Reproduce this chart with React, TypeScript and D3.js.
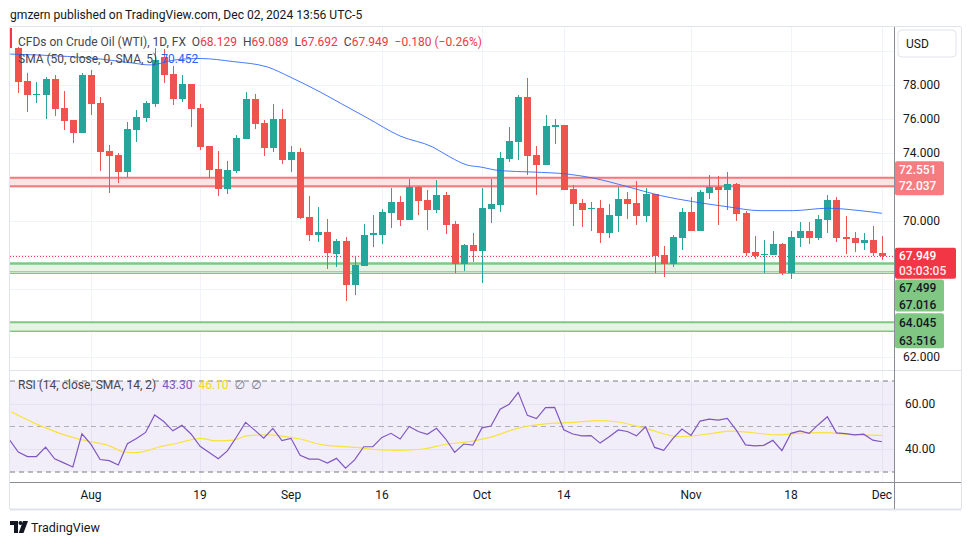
import React from "react";
import * as d3 from "d3";

// ---------- DATA ----------
const OPEN = [80.16,78.24,77.45,77.41,78.36,76.65,75.94,75.2,78.61,76.94,74.12,73.88,72.9,75.38,76.08,76.9,79.63,78.65,77.2,78.06,76.65,74.41,73.06,71.9,72.96,74.85,77.18,75.77,74.31,76.0,73.61,74.06,70.24,69.2,69.38,68.08,68.82,66.24,67.37,69.18,69.18,70.49,71.12,70.08,72.02,71.24,70.67,71.53,69.82,67.45,68.61,68.25,70.73,70.96,73.67,74.67,77.29,73.88,73.31,75.55,75.65,71.88,71.06,70.72,70.76,69.29,70.29,71.29,71.06,70.29,71.59,68.0,67.47,69.0,70.53,69.41,71.65,72.0,71.82,72.18,70.47,68.18,68.0,68.0,68.65,66.94,69.0,69.41,69.0,70.06,71.24,69.06,69.0,68.71,68.88,68.129];
const HIGH = [80.25,78.73,78.16,78.49,78.59,77.67,75.96,78.69,78.88,77.27,74.47,74.02,75.83,76.53,77.06,80.18,80.1,79.12,78.61,78.08,76.88,74.43,74.12,73.53,75.08,77.59,77.47,75.94,76.88,76.59,74.41,74.29,71.49,70.84,70.12,68.94,69.04,67.94,69.82,70.37,70.71,71.94,71.47,72.49,72.04,71.82,72.41,71.69,70.0,68.67,69.29,71.94,72.47,74.06,75.53,77.41,78.41,74.41,76.24,76.0,75.67,72.12,71.29,71.12,71.24,71.0,72.0,71.71,72.35,71.94,71.61,68.53,69.18,70.76,71.41,71.82,72.71,72.65,72.88,72.24,70.59,69.12,68.88,69.41,68.71,69.41,69.94,69.94,70.35,71.53,71.41,70.29,69.35,69.29,69.71,69.089];
const LOW = [77.55,76.43,76.92,76.0,76.18,75.36,74.61,75.18,76.26,72.96,71.67,72.22,72.61,74.63,75.84,76.73,78.14,76.84,76.98,75.55,74.18,72.55,71.49,71.61,72.85,74.83,75.41,73.84,74.08,73.37,72.9,70.14,68.85,68.78,67.17,67.31,65.31,65.65,67.35,68.49,68.67,69.59,69.73,70.06,70.37,69.49,70.49,69.26,66.96,67.08,67.61,66.37,69.9,70.55,73.49,73.59,72.73,71.55,73.29,74.55,71.82,69.71,69.65,69.4,68.71,69.0,69.35,70.12,69.76,69.96,66.94,66.73,67.29,68.29,69.39,69.39,71.29,69.76,70.65,70.0,67.94,67.76,66.94,67.98,66.82,66.59,68.47,68.65,68.88,69.29,68.76,68.06,68.18,68.29,67.94,67.692];
const CLOSE = [78.2,77.41,77.5,78.36,76.61,75.9,75.2,78.61,76.9,74.08,73.84,72.9,75.39,76.12,76.94,79.47,78.61,77.2,78.06,76.61,74.37,73.02,71.9,73.0,74.88,77.18,75.73,74.31,76.0,73.61,74.06,70.2,69.2,69.38,68.1,68.82,66.24,67.41,69.18,69.27,70.53,71.12,70.08,72.02,71.2,70.67,71.53,69.78,67.45,68.61,68.25,70.76,71.0,73.71,74.71,77.29,73.84,73.31,75.59,75.63,71.84,71.02,70.66,70.78,69.29,70.35,71.29,71.0,70.29,71.59,67.94,67.47,69.06,70.53,69.41,71.71,72.0,71.82,72.18,70.41,68.12,67.94,68.06,68.65,66.94,69.06,69.41,69.0,70.12,71.24,69.0,68.94,68.71,68.88,68.12,67.949];

// RSI values for bar -1 .. 95
const RSI = [44.3,38.8,36.8,36.8,40.9,35.8,34.0,32.2,46.8,42.1,35.5,35.0,33.1,42.4,44.7,47.4,55.1,52.2,48.1,50.5,46.7,41.3,38.6,35.8,39.3,45.4,51.8,48.4,44.9,49.2,43.8,44.8,37.3,35.7,35.7,33.9,36.0,31.7,35.3,41.1,41.1,45.2,47.0,44.5,50.0,47.8,46.6,49.2,44.6,38.6,42.3,41.8,49.4,50.2,57.6,59.8,65.0,54.9,53.5,58.3,58.4,48.6,46.7,45.9,46.0,42.7,45.5,48.5,47.8,45.9,49.9,40.8,39.5,44.7,48.9,46.1,52.4,53.2,52.8,53.6,48.3,41.9,41.5,41.7,43.9,39.4,47.0,48.1,47.0,50.8,54.3,47.2,46.9,46.3,46.6,44.0,43.3];

// RSI-based MA, sampled along the line
const RSI_MA_IDX = [-0.8,2.4,5.9,7.9,10.1,11.55,13.0,14.1,15.6,17.1,18.5,20,21.8,23.7,25.1,27.3,29.2,31,33.5,37.2,39.8,42,44.5,47.1,50,51.9,54.9,58.5,61,62.9,63.7,65.8,68.7,72.8,76.4,78.3,83.8,85.7,88.5,92.3,95];
const RSI_MA_VAL = [56.5,50.4,45.3,43.4,41.4,38.9,38.5,39.3,41.1,42.3,43.7,44.8,43.7,44.0,45.9,46.3,45.7,44.5,41.9,40.8,39.7,39.5,40.1,42.2,43.6,45.2,49.2,51.4,51.8,52.4,52.6,52.1,49.5,45.5,47.0,48.0,46.3,47.0,47.3,46.3,46.1];

// SMA 50, sampled along the line
const SMA_IDX = [-0.9,5.4,9,12.6,14.5,17.2,20,23.6,27.4,29.9,33.2,35.4,38.4,42,45.6,47.5,49.4,50.8,53,56.6,60.4,63.2,67,70.6,74.2,78,81.6,85.2,89,92.6,95];
const SMA_VAL = [79.82,79.68,79.53,79.29,79.18,79.47,79.56,79.38,79.06,78.47,77.59,76.94,76.06,75.0,74.35,73.76,73.29,73.18,72.96,72.88,72.76,72.53,72.02,71.5,71.14,70.84,70.61,70.61,70.75,70.61,70.452];

const TIME_LABELS = ["Aug", "19", "Sep", "16", "Oct", "14", "Nov", "18", "Dec"];
const TIME_LABEL_IDX = [8, 20, 30, 40, 51, 60, 74, 85, 95];
const PRICE_GRID = [80, 78, 76, 74, 72, 70, 68, 66, 64, 62];
const PRICE_TICKS = [78, 76, 74, 70, 62];
const RSI_TICKS = [60, 40];

const RED_BAND = [72.551, 72.037];
const GREEN_BAND_1 = [67.499, 67.016];
const GREEN_BAND_2 = [64.045, 63.516];
const LAST_PRICE = 67.949;
const COUNTDOWN = "03:03:05";

// ---------- COMPONENT ----------
const FONT = "Roboto, 'Open Sans', 'DejaVu Sans', sans-serif";

export default function App() {
  const W = 970, H = 545;
  const L = 10, AX = 894, R = 961;
  const TOP = 27, MAIN_B = 370, RSI_T = 371, RSI_B = 482, TIME_B = 509;

  const x = d3.scaleLinear().domain([0, 95]).range([18.3, 881.9]);
  const y = d3.scaleLinear().domain([62, 78]).range([357, 85]);
  const yr = d3.scaleLinear().domain([30, 70]).range([472, 381]);

  const up = "#26A69A", down = "#EF5350";

  const smaLine = d3.line<number>()
    .x((_, i) => x(SMA_IDX[i]))
    .y((d) => y(d))
    .curve(d3.curveMonotoneX)(SMA_VAL) || "";
  const rsiLine = d3.line<number>()
    .x((_, i) => x(i - 1))
    .y((d) => yr(d))(RSI) || "";
  const rsiMaLine = d3.line<number>()
    .x((_, i) => x(RSI_MA_IDX[i]))
    .y((d) => yr(d))
    .curve(d3.curveMonotoneX)(RSI_MA_VAL) || "";

  const band = (vals: number[], stroke: string, fill: string, key: string, topW: number, botW: number) => (
    <g key={key}>
      <rect x={L} y={y(vals[0])} width={AX - L} height={y(vals[1]) - y(vals[0])} fill={fill} />
      <line x1={L} x2={AX} y1={y(vals[0])} y2={y(vals[0])} stroke={stroke} strokeWidth={topW} />
      <line x1={L} x2={AX} y1={y(vals[1])} y2={y(vals[1])} stroke={stroke} strokeWidth={botW} />
    </g>
  );

  const lbl = (v: number) => v.toFixed(3);

  return (
    <svg width={W} height={H} style={{ position: "absolute", left: 0, top: 0, background: "#fff" }} fontFamily={FONT}>
      <defs>
        <clipPath id="mainClip"><rect x={L} y={TOP} width={AX - L} height={MAIN_B - TOP} /></clipPath>
        <clipPath id="rsiClip"><rect x={L} y={RSI_T} width={AX - L} height={RSI_B - RSI_T} /></clipPath>
      </defs>
      <rect x={0} y={0} width={W} height={H} fill="#fff" />

      {/* header */}
      <text x={10} y={19} fontSize={12.1} fill="#131722">gmzern published on TradingView.com, Dec 02, 2024 13:56 UTC-5</text>

      {/* grid */}
      <g stroke="#F0F3FA" strokeWidth={1}>
        {PRICE_GRID.map((p) => (
          <line key={"pg" + p} x1={L} x2={AX} y1={Math.round(y(p)) + 0.5} y2={Math.round(y(p)) + 0.5} />
        ))}
        {TIME_LABEL_IDX.map((i) => (
          <line key={"vg" + i} x1={Math.round(x(i)) + 0.5} x2={Math.round(x(i)) + 0.5} y1={TOP} y2={RSI_B} />
        ))}
        {RSI_TICKS.map((v) => (
          <line key={"rg" + v} x1={L} x2={AX} y1={Math.round(yr(v)) + 0.5} y2={Math.round(yr(v)) + 0.5} />
        ))}
      </g>

      {/* main pane */}
      <g clipPath="url(#mainClip)">
        {band(RED_BAND, "#F5787D", "#FDE3E4", "rb", 2, 2)}
        {band(GREEN_BAND_1, "#81C784", "#E6F4E6", "gb1", 2.5, 1.2)}
        <line x1={L} x2={AX} y1={y(66.92)} y2={y(66.92)} stroke="#81C784" strokeWidth={1.2} />
        {band(GREEN_BAND_2, "#81C784", "#E6F4E6", "gb2", 2, 1.5)}

        <line x1={L} x2={AX} y1={Math.round(y(LAST_PRICE)) + 0.5} y2={Math.round(y(LAST_PRICE)) + 0.5}
          stroke="#F23645" strokeWidth={1} strokeDasharray="1 2" />

        <g shapeRendering="crispEdges">
          {OPEN.map((o, i) => {
            const c = CLOSE[i];
            const col = c >= o ? up : down;
            const cx = Math.round(x(i));
            const top = y(Math.max(o, c));
            const bot = y(Math.min(o, c));
            return (
              <g key={"c" + i}>
                <rect x={cx} y={y(HIGH[i])} width={1} height={y(LOW[i]) - y(HIGH[i])} fill={col} />
                <rect x={cx - 3} y={top} width={7} height={Math.max(1, bot - top)} fill={col} />
              </g>
            );
          })}
        </g>

        <path d={smaLine} fill="none" stroke="#2962FF" strokeWidth={1} opacity={0.85} />
      </g>

      {/* legend main */}
      <rect x={10} y={28} width={2} height={20} fill="#F23645" />
      <text x={18} y={46} fontSize={12} fill="#434651">
        CFDs on Crude Oil (WTI), 1D, FX
        <tspan dx={6}>O</tspan><tspan fill="#F23645">68.129</tspan>
        <tspan dx={6}>H</tspan><tspan fill="#F23645">69.089</tspan>
        <tspan dx={6}>L</tspan><tspan fill="#F23645">67.692</tspan>
        <tspan dx={6}>C</tspan><tspan fill="#F23645">67.949</tspan>
        <tspan dx={6} fill="#F23645">−0.180 (−0.26%)</tspan>
      </text>
      <text x={18} y={63} fontSize={12} fill="#434651">
        SMA (50, close, 0, SMA, 5)<tspan dx={4} fill="#2962FF">70.452</tspan>
      </text>

      {/* RSI pane */}
      <line x1={L} x2={R} y1={RSI_T - 0.5} y2={RSI_T - 0.5} stroke="#E0E3EB" />
      <rect x={L} y={yr(70)} width={AX - L} height={yr(30) - yr(70)} fill="rgba(126,87,194,0.1)" />
      <g strokeDasharray="5 4" strokeWidth={1}>
        <line x1={L} x2={AX} y1={yr(70)} y2={yr(70)} stroke="#787B86" />
        <line x1={L} x2={AX} y1={yr(50)} y2={yr(50)} stroke="#787B86" opacity={0.55} />
        <line x1={L} x2={AX} y1={yr(30)} y2={yr(30)} stroke="#787B86" />
      </g>
      <g clipPath="url(#rsiClip)">
        <path d={rsiMaLine} fill="none" stroke="#F9E23C" strokeWidth={1.2} />
        <path d={rsiLine} fill="none" stroke="#7E57C2" strokeWidth={1.2} />
      </g>
      <text x={18} y={389} fontSize={12} fill="#434651">
        RSI (14, close, SMA, 14, 2)
        <tspan dx={6} fill="#7E57C2">43.30</tspan>
        <tspan dx={6} fill="#F2D52B">46.10</tspan>
        <tspan dx={6} fill="#787B86">∅</tspan>
        <tspan dx={6} fill="#787B86">∅</tspan>
      </text>

      {/* axes lines & frame */}
      <line x1={L} x2={R} y1={TOP - 0.5} y2={TOP - 0.5} stroke="#E0E3EB" />
      <line x1={L - 0.5} x2={L - 0.5} y1={TOP} y2={TIME_B} stroke="#E0E3EB" />
      <line x1={R + 0.5} x2={R + 0.5} y1={TOP} y2={TIME_B} stroke="#E0E3EB" />
      <line x1={L} x2={R} y1={TIME_B + 0.5} y2={TIME_B + 0.5} stroke="#E0E3EB" strokeWidth={2} />
      <line x1={AX + 0.5} x2={AX + 0.5} y1={TOP} y2={TIME_B} stroke="#8A8D96" />
      <line x1={L} x2={R} y1={RSI_B + 0.5} y2={RSI_B + 0.5} stroke="#8A8D96" />

      {/* time labels */}
      {TIME_LABELS.map((t, k) => (
        <text key={"t" + t} x={x(TIME_LABEL_IDX[k])} y={499} fontSize={12} fill="#131722" textAnchor="middle">{t}</text>
      ))}

      {/* price axis */}
      <rect x={898} y={30} width={58} height={27} rx={4} fill="#fff" stroke="#E0E3EB" />
      <text x={906} y={48} fontSize={12} fill="#131722">USD</text>
      {PRICE_TICKS.map((p) => (
        <text key={"pt" + p} x={903} y={y(p) + 4} fontSize={12} fill="#131722">{p.toFixed(3)}</text>
      ))}
      {RSI_TICKS.map((v) => (
        <text key={"rt" + v} x={905} y={yr(v) + 4} fontSize={12} fill="#131722">{v.toFixed(2)}</text>
      ))}

      {/* colored price labels */}
      <g fontSize={12} fontWeight={500}>
        <rect x={AX + 1} y={y(RED_BAND[0]) - 16.5} width={49} height={34} rx={2} fill="#F77C80" />
        <text x={AX + 5} y={y(RED_BAND[0]) - 3.5} fill="#fff">{lbl(RED_BAND[0])}</text>
        <text x={AX + 5} y={y(RED_BAND[1]) + 4} fill="#fff">{lbl(RED_BAND[1])}</text>

        <rect x={AX + 1} y={y(LAST_PRICE) - 8} width={61} height={31} rx={2} fill="#F23645" />
        <text x={AX + 5} y={y(LAST_PRICE) + 4.5} fill="#fff">{lbl(LAST_PRICE)}</text>
        <text x={AX + 5} y={y(LAST_PRICE) + 19} fill="#fff" opacity={0.9}>{COUNTDOWN}</text>

        <rect x={AX + 1} y={y(GREEN_BAND_1[0]) + 16} width={49} height={32} rx={2} fill="#81C784" />
        <text x={AX + 5} y={y(GREEN_BAND_1[0]) + 28} fill="#131722">{lbl(GREEN_BAND_1[0])}</text>
        <text x={AX + 5} y={y(GREEN_BAND_1[1]) + 37} fill="#131722">{lbl(GREEN_BAND_1[1])}</text>

        <rect x={AX + 1} y={y(GREEN_BAND_2[0]) - 9} width={49} height={35} rx={2} fill="#81C784" />
        <text x={AX + 5} y={y(GREEN_BAND_2[0]) + 5} fill="#131722">{lbl(GREEN_BAND_2[0])}</text>
        <text x={AX + 5} y={y(GREEN_BAND_2[1]) + 13.5} fill="#131722">{lbl(GREEN_BAND_2[1])}</text>
      </g>

      {/* TradingView logo */}
      <g fill="#131722">
        <path d="M10 521 h8 v12 h-4 v-8 h-4 z" />
        <circle cx={20.5} cy={523} r={2} />
        <path d="M23 521 h5 l-4.5 12 h-4.8 z" />
      </g>
      <text x={31} y={532} fontSize={12.5} fill="#131722" fontWeight={400}>TradingView</text>
    </svg>
  );
}
